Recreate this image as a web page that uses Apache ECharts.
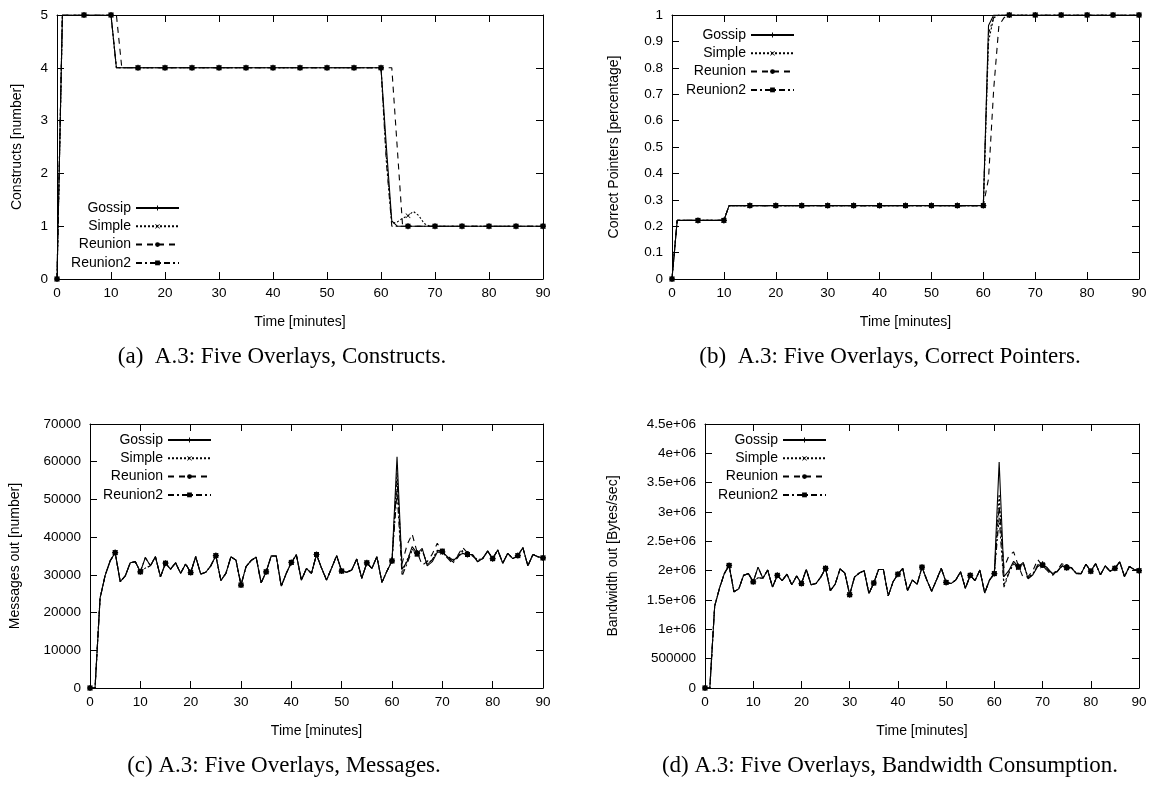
<!DOCTYPE html>
<html>
<head>
<meta charset="utf-8">
<script src="https://cdn.jsdelivr.net/npm/echarts@6/dist/echarts.min.js"></script>
<style>
html,body{margin:0;padding:0;background:#fff;}
#chart{width:1157px;height:787px;}
</style>
</head>
<body>
<div id="chart"></div>
<script>
// ---------------- DATA ----------------
const minutes = [0,1,2,3,4,5,6,7,8,9,10,11,12,13,14,15,16,17,18,19,20,21,22,23,24,25,26,27,28,29,
  30,31,32,33,34,35,36,37,38,39,40,41,42,43,44,45,46,47,48,49,50,51,52,53,54,55,56,57,58,59,
  60,61,62,63,64,65,66,67,68,69,70,71,72,73,74,75,76,77,78,79,80,81,82,83,84,85,86,87,88,89,90];
const seriesNames = ['Gossip','Simple','Reunion','Reunion2'];

// (a) Constructs
const constructsGossip = [0,5,5,5,5,5,5,5,5,5,5,
  4,4,4,4,4,4,4,4,4,4, 4,4,4,4,4,4,4,4,4,4, 4,4,4,4,4,4,4,4,4,4, 4,4,4,4,4,4,4,4,4,4, 4,4,4,4,4,4,4,4,4,4,
  2.5,1.1,
  1,1,1,1,1,1,1,1,1,1, 1,1,1,1,1,1,1,1,1,1, 1,1,1,1,1,1,1,1];
const constructsSimple = [0,5,5,5,5,5,5,5,5,5,5,
  4,4,4,4,4,4,4,4,4,4, 4,4,4,4,4,4,4,4,4,4, 4,4,4,4,4,4,4,4,4,4, 4,4,4,4,4,4,4,4,4,4, 4,4,4,4,4,4,4,4,4,4,
  2.3,1.05,1.08,1.15,1.2,1.28,1.2,1.05,
  1,1,1,1,1,1,1,1,1,1, 1,1,1,1,1,1,1,1,1,1, 1,1];
const constructsReunion = [0,5,5,5,5,5,5,5,5,5,5,5,
  4,4,4,4,4,4,4,4,4,4, 4,4,4,4,4,4,4,4,4,4, 4,4,4,4,4,4,4,4,4,4, 4,4,4,4,4,4,4,4,4,4, 4,4,4,4,4,4,4,4,4,4, 4,
  2.5,
  1,1,1,1,1,1,1,1,1,1, 1,1,1,1,1,1,1,1,1,1, 1,1,1,1,1,1,1];
const constructsReunion2 = [0,5,5,5,5,5,5,5,5,5,5,
  4,4,4,4,4,4,4,4,4,4, 4,4,4,4,4,4,4,4,4,4, 4,4,4,4,4,4,4,4,4,4, 4,4,4,4,4,4,4,4,4,4, 4,4,4,4,4,4,4,4,4,4,
  2.2,
  1,1,1,1,1,1,1,1,1,1, 1,1,1,1,1,1,1,1,1,1, 1,1,1,1,1,1,1,1,1];

// (b) Correct pointers
const pointersGossip = [0,
  0.222,0.222,0.222,0.222,0.222,0.222,0.222,0.222,0.222,0.222,
  0.278,0.278,0.278,0.278,0.278,0.278,0.278,0.278,0.278,0.278, 0.278,0.278,0.278,0.278,0.278,0.278,0.278,0.278,0.278,0.278,
  0.278,0.278,0.278,0.278,0.278,0.278,0.278,0.278,0.278,0.278, 0.278,0.278,0.278,0.278,0.278,0.278,0.278,0.278,0.278,0.278,
  0.278,0.278,0.278,0.278,0.278,0.278,0.278,0.278,0.278,0.278,
  0.96,
  1,1,1,1,1,1,1,1,1,1, 1,1,1,1,1,1,1,1,1,1, 1,1,1,1,1,1,1,1,1];
const pointersSimple = [0,
  0.222,0.222,0.222,0.222,0.222,0.222,0.222,0.222,0.222,0.222,
  0.278,0.278,0.278,0.278,0.278,0.278,0.278,0.278,0.278,0.278, 0.278,0.278,0.278,0.278,0.278,0.278,0.278,0.278,0.278,0.278,
  0.278,0.278,0.278,0.278,0.278,0.278,0.278,0.278,0.278,0.278, 0.278,0.278,0.278,0.278,0.278,0.278,0.278,0.278,0.278,0.278,
  0.278,0.278,0.278,0.278,0.278,0.278,0.278,0.278,0.278,0.278,
  0.9,0.99,
  1,1,1,1,1,1,1,1,1,1, 1,1,1,1,1,1,1,1,1,1, 1,1,1,1,1,1,1,1];
const pointersReunion = [0,
  0.222,0.222,0.222,0.222,0.222,0.222,0.222,0.222,0.222,0.222,
  0.278,0.278,0.278,0.278,0.278,0.278,0.278,0.278,0.278,0.278, 0.278,0.278,0.278,0.278,0.278,0.278,0.278,0.278,0.278,0.278,
  0.278,0.278,0.278,0.278,0.278,0.278,0.278,0.278,0.278,0.278, 0.278,0.278,0.278,0.278,0.278,0.278,0.278,0.278,0.278,0.278,
  0.278,0.278,0.278,0.278,0.278,0.278,0.278,0.278,0.278,0.278,
  0.38,0.72,0.96,0.99,
  1,1,1,1,1,1,1,1,1,1, 1,1,1,1,1,1,1,1,1,1, 1,1,1,1,1,1];
const pointersReunion2 = [0,
  0.222,0.222,0.222,0.222,0.222,0.222,0.222,0.222,0.222,0.222,
  0.278,0.278,0.278,0.278,0.278,0.278,0.278,0.278,0.278,0.278, 0.278,0.278,0.278,0.278,0.278,0.278,0.278,0.278,0.278,0.278,
  0.278,0.278,0.278,0.278,0.278,0.278,0.278,0.278,0.278,0.278, 0.278,0.278,0.278,0.278,0.278,0.278,0.278,0.278,0.278,0.278,
  0.278,0.278,0.278,0.278,0.278,0.278,0.278,0.278,0.278,0.278,
  0.93,0.99,
  1,1,1,1,1,1,1,1,1,1, 1,1,1,1,1,1,1,1,1,1, 1,1,1,1,1,1,1,1];

// (c) Messages out
const messagesGossip = [
  0,0,23800,29800,33700,35900,28200,29700,33200,33500,
  30800,34600,32400,34800,29500,33100,31500,33200,30400,32900,
  30600,34800,30200,30700,32400,35100,28500,30400,34800,33900,
  27300,32200,33800,34700,27900,30800,35000,35000,27000,30400,
  33300,35300,28600,31700,30400,35400,31800,28600,31800,35100,
  31000,30700,31300,34200,29100,33200,31700,34800,28000,31000,
  33700,61300,31500,33500,37500,35700,37000,32400,33500,36000,
  36100,34800,33500,34800,35700,35400,35400,33500,34300,36300,
  34300,36600,33100,35700,34300,35100,37200,32400,35400,34800,
  34500];
const messagesSimple = [
  0,0,23800,29800,33700,35900,28200,29700,33200,33500,
  30800,31800,32400,34800,29500,33100,31500,33200,30400,32900,
  30600,34800,30200,30700,32400,35100,28500,30400,34800,33900,
  27300,32200,33800,34700,27900,30800,35000,35000,27000,30400,
  33300,35300,28600,31700,30400,35400,31800,28600,31800,35100,
  31000,30700,31300,34200,29100,33200,31700,34800,28000,31000,
  33700,57000,30500,34000,36800,35500,36500,32800,34000,36300,
  36000,34500,33800,34500,36200,35400,35200,34000,34300,36300,
  34300,36600,33100,35700,34300,35100,37200,32400,35400,34800,
  34500];
const messagesReunion = [
  0,0,23800,29800,33700,35900,28200,29700,33200,33500,
  30800,31800,32400,34800,29500,33100,31500,33200,30400,32900,
  30600,34800,30200,30700,32400,35100,28500,30400,34800,33900,
  27300,32200,33800,34700,27900,30800,35000,35000,27000,30400,
  33300,35300,28600,31700,30400,35400,31800,28600,31800,35100,
  31000,30700,31300,34200,29100,33200,31700,34800,28000,31000,
  33700,55000,33000,38000,40800,36000,32600,33500,35500,38400,
  36000,35000,34000,35000,37300,35800,35000,33800,34300,36300,
  34300,36600,33100,35700,34300,35100,37200,32400,35400,34800,
  34500];
const messagesReunion2 = [
  0,0,23800,29800,33700,35900,28200,29700,33200,33500,
  30800,34600,32400,34800,29500,33100,31500,33200,30400,32900,
  30600,34800,30200,30700,32400,35100,28500,30400,34800,33900,
  27300,32200,33800,34700,27900,30800,35000,35000,27000,30400,
  33300,35300,28600,31700,30400,35400,31800,28600,31800,35100,
  31000,30700,31300,34200,29100,33200,31700,34800,28000,31000,
  33700,52000,29700,33000,36500,35500,36500,32800,34000,36500,
  36300,34500,33000,34500,36500,35400,35400,33500,34300,36300,
  34300,36600,33100,35700,34300,35100,37200,32400,35400,34800,
  34500];

// (d) Bandwidth out
const bandwidthGossip = [
  0,0,1390000,1700000,1950000,2090000,1640000,1690000,1920000,1950000,
  1810000,2060000,1870000,2010000,1720000,1920000,1830000,1940000,1760000,1910000,
  1780000,2020000,1760000,1780000,1890000,2040000,1660000,1770000,2030000,1960000,
  1590000,1890000,1960000,2000000,1610000,1790000,2020000,2020000,1570000,1810000,
  1940000,2040000,1660000,1840000,1770000,2060000,1840000,1650000,1840000,2040000,
  1800000,1780000,1840000,1980000,1700000,1920000,1830000,2010000,1620000,1840000,
  1950000,3850000,1900000,2000000,2160000,2070000,2140000,1860000,1930000,2070000,
  2110000,2050000,1950000,1980000,2080000,2050000,2050000,1950000,1950000,2110000,
  1990000,2120000,1930000,2080000,1990000,2040000,2150000,1900000,2070000,2020000,
  2000000];
const bandwidthSimple = [
  0,0,1390000,1700000,1950000,2090000,1640000,1690000,1920000,1950000,
  1810000,1880000,1870000,2010000,1720000,1920000,1830000,1940000,1760000,1910000,
  1780000,2020000,1760000,1780000,1890000,2040000,1660000,1770000,2030000,1960000,
  1590000,1890000,1960000,2000000,1610000,1790000,2020000,2020000,1570000,1810000,
  1940000,2040000,1660000,1840000,1770000,2060000,1840000,1650000,1840000,2040000,
  1800000,1780000,1840000,1980000,1700000,1920000,1830000,2010000,1620000,1840000,
  1950000,3300000,1750000,1980000,2120000,2050000,2120000,1880000,1950000,2080000,
  2080000,2020000,1960000,1990000,2070000,2050000,2040000,1960000,1950000,2110000,
  1990000,2120000,1930000,2080000,1990000,2040000,2150000,1900000,2070000,2020000,
  2000000];
const bandwidthReunion = [
  0,0,1390000,1700000,1950000,2090000,1640000,1690000,1920000,1950000,
  1810000,1880000,1870000,2010000,1720000,1920000,1830000,1940000,1760000,1910000,
  1780000,2020000,1760000,1780000,1890000,2040000,1660000,1770000,2030000,1960000,
  1590000,1890000,1960000,2000000,1610000,1790000,2020000,2020000,1570000,1810000,
  1940000,2040000,1660000,1840000,1770000,2060000,1840000,1650000,1840000,2040000,
  1800000,1780000,1840000,1980000,1700000,1920000,1830000,2010000,1620000,1840000,
  1950000,3100000,2050000,2250000,2320000,2080000,1880000,1900000,2000000,2190000,
  2080000,2000000,1910000,2000000,2120000,2080000,2050000,1960000,1950000,2110000,
  1990000,2120000,1930000,2080000,1990000,2040000,2150000,1900000,2070000,2020000,
  2000000];
const bandwidthReunion2 = [
  0,0,1390000,1700000,1950000,2090000,1640000,1690000,1920000,1950000,
  1810000,2060000,1870000,2010000,1720000,1920000,1830000,1940000,1760000,1910000,
  1780000,2020000,1760000,1780000,1890000,2040000,1660000,1770000,2030000,1960000,
  1590000,1890000,1960000,2000000,1610000,1790000,2020000,2020000,1570000,1810000,
  1940000,2040000,1660000,1840000,1770000,2060000,1840000,1650000,1840000,2040000,
  1800000,1780000,1840000,1980000,1700000,1920000,1830000,2010000,1620000,1840000,
  1950000,2900000,1720000,1950000,2120000,2060000,2130000,1870000,1940000,2100000,
  2100000,2030000,1930000,1980000,2090000,2050000,2050000,1950000,1950000,2110000,
  1990000,2120000,1930000,2080000,1990000,2040000,2150000,1900000,2070000,2020000,
  2000000];

const markerEvery = 5; // gnuplot point interval (minutes)

// ---------------- STYLE / LAYOUT ----------------
const FONT = 'Liberation Sans';
const SERIF = 'Liberation Serif';
const TICK_FS = 13.5, NAME_FS = 14, LEG_FS = 14, CAP_FS = 23;
const plusPath = 'path://M4,0H6V4H10V6H6V10H4V6H0V4H4Z';
const crossPath = 'path://M0,1L1,0L5,4L9,0L10,1L6,5L10,9L9,10L5,6L1,10L0,9L4,5Z';
const seriesStyle = {
  Gossip:   {dash:'solid', symbol:plusPath, size:6},
  Simple:   {dash:[2,2], symbol:crossPath, size:5},
  Reunion:  {dash:[6,5], symbol:'circle', size:4},
  Reunion2: {dash:[6,3,2,3], symbol:'rect', size:5}
};

const panels = [
  {grid:{left:57, top:15, width:486, height:264}, yMin:0, yMax:5, yInt:1, yName:'Constructs [number]', yGap:33,
   data:[constructsGossip, constructsSimple, constructsReunion, constructsReunion2],
   legend:{right:977, top:201}, caption:'(a)  A.3: Five Overlays, Constructs.', capX:282, capY:357},
  {grid:{left:672, top:15, width:467, height:264}, yMin:0, yMax:1, yInt:0.1, yName:'Correct Pointers [percentage]', yGap:51,
   data:[pointersGossip, pointersSimple, pointersReunion, pointersReunion2],
   legend:{right:362, top:28}, caption:'(b)  A.3: Five Overlays, Correct Pointers.', capX:890, capY:357},
  {grid:{left:90, top:424, width:453, height:264}, yMin:0, yMax:70000, yInt:10000, yName:'Messages out [number]', yGap:68,
   data:[messagesGossip, messagesSimple, messagesReunion, messagesReunion2],
   legend:{right:945, top:433}, caption:'(c) A.3: Five Overlays, Messages.', capX:284, capY:766},
  {grid:{left:705, top:424, width:434, height:264}, yMin:0, yMax:4500000, yInt:500000, yName:'Bandwidth out [Bytes/sec]', yGap:85,
   data:[bandwidthGossip, bandwidthSimple, bandwidthReunion, bandwidthReunion2],
   legend:{right:330, top:433}, caption:'(d) A.3: Five Overlays, Bandwidth Consumption.', capX:890, capY:766,
   fmt:function(v){ if(v===0) return '0'; if(v<1000000) return String(v); return (v/1000000)+'e+06'; }}
];

const axisLineStyle = {color:'#000', width:1};
const grids=[], xAxes=[], yAxes=[], series=[], legends=[], graphics=[];
panels.forEach(function(p, g){
  grids.push(Object.assign({show:false}, p.grid));
  xAxes.push({type:'value', gridIndex:g, min:0, max:90, interval:10, position:'bottom',
    name:'Time [minutes]', nameLocation:'middle', nameGap:36,
    nameTextStyle:{color:'#000', fontSize:NAME_FS, fontFamily:FONT},
    axisLine:{show:true, onZero:false, lineStyle:axisLineStyle},
    axisTick:{show:true, inside:true, length:7, lineStyle:axisLineStyle},
    axisLabel:{color:'#000', fontSize:TICK_FS, fontFamily:FONT, margin:7},
    splitLine:{show:false}});
  xAxes.push({type:'value', gridIndex:g, min:0, max:90, interval:10, position:'top',
    axisLine:{show:true, onZero:false, lineStyle:axisLineStyle},
    axisTick:{show:true, inside:true, length:7, lineStyle:axisLineStyle},
    axisLabel:{show:false}, splitLine:{show:false}});
  yAxes.push({type:'value', gridIndex:g, min:p.yMin, max:p.yMax, interval:p.yInt, position:'left',
    name:p.yName, nameLocation:'middle', nameGap:p.yGap, nameRotate:90,
    nameTextStyle:{color:'#000', fontSize:NAME_FS, fontFamily:FONT},
    axisLine:{show:true, onZero:false, lineStyle:axisLineStyle},
    axisTick:{show:true, inside:true, length:7, lineStyle:axisLineStyle},
    axisLabel:{color:'#000', fontSize:TICK_FS, fontFamily:FONT, margin:9,
      formatter: p.fmt || function(v){ return String(Math.round(v*1000)/1000); }},
    splitLine:{show:false}});
  yAxes.push({type:'value', gridIndex:g, min:p.yMin, max:p.yMax, interval:p.yInt, position:'right',
    axisLine:{show:true, onZero:false, lineStyle:axisLineStyle},
    axisTick:{show:true, inside:true, length:7, lineStyle:axisLineStyle},
    axisLabel:{show:false}, splitLine:{show:false}});
  seriesNames.forEach(function(name, k){
    const st = seriesStyle[name];
    const vals = p.data[k];
    series.push({
      type:'line', name:name, xAxisIndex:2*g, yAxisIndex:2*g,
      data: minutes.map(function(t, i){
        return (t % markerEvery === 0) ? {value:[t, vals[i]]} : {value:[t, vals[i]], symbol:'none'};
      }),
      symbol: st.symbol, symbolSize: st.size,
      lineStyle:{color:'#000', width:1.1, type:st.dash},
      itemStyle:{color:'#000'},
      emphasis:{disabled:true}, silent:true, animation:false, z:2+k
    });
  });
  legends.push({orient:'vertical', align:'right', right:p.legend.right, top:p.legend.top, padding:0,
    itemWidth:43, itemHeight:6, itemGap:4.3, selectedMode:false, data:seriesNames,
    textStyle:{color:'#000', fontSize:LEG_FS, fontFamily:FONT, lineHeight:14}});
  graphics.push({type:'text', x:p.capX, y:p.capY,
    style:{text:p.caption, fill:'#000', font:CAP_FS + 'px "' + SERIF + '"', textAlign:'center', textVerticalAlign:'middle'}});
});

const chart = echarts.init(document.getElementById('chart'), null, {renderer:'canvas'});
chart.setOption({
  animation:false, backgroundColor:'#fff',
  grid:grids, xAxis:xAxes, yAxis:yAxes, series:series, legend:legends, graphic:graphics
});
</script>
</body>
</html>
